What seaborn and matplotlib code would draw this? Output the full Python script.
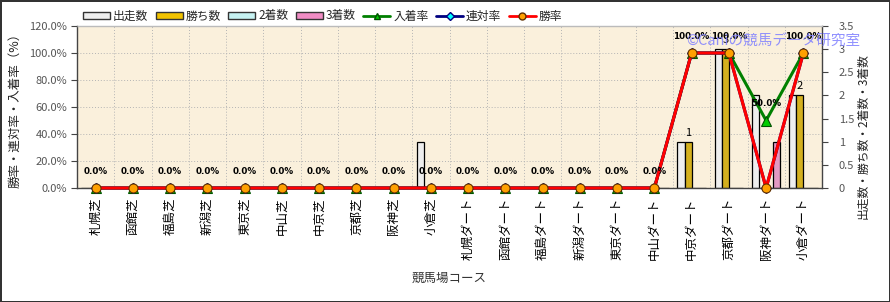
import numpy as np
import pandas as pd
import matplotlib
matplotlib.use('Agg')
import matplotlib.pyplot as plt
from matplotlib.patches import Patch
from matplotlib.lines import Line2D
from matplotlib.ticker import FixedLocator, FuncFormatter
import seaborn as sns

# ---------------- data ----------------
courses = ['札幌芝', '函館芝', '福島芝', '新潟芝', '東京芝', '中山芝', '中京芝', '京都芝', '阪神芝', '小倉芝',
           '札幌ダート', '函館ダート', '福島ダート', '新潟ダート', '東京ダート', '中山ダート',
           '中京ダート', '京都ダート', '阪神ダート', '小倉ダート']
starts = [0, 0, 0, 0, 0, 0, 0, 0, 0, 1, 0, 0, 0, 0, 0, 0, 1, 3, 2, 2]
wins = [0, 0, 0, 0, 0, 0, 0, 0, 0, 0, 0, 0, 0, 0, 0, 0, 1, 3, 0, 2]
seconds = [0, 0, 0, 0, 0, 0, 0, 0, 0, 0, 0, 0, 0, 0, 0, 0, 0, 0, 0, 0]
thirds = [0, 0, 0, 0, 0, 0, 0, 0, 0, 0, 0, 0, 0, 0, 0, 0, 0, 0, 1, 0]
place_rate = [0, 0, 0, 0, 0, 0, 0, 0, 0, 0, 0, 0, 0, 0, 0, 0, 100, 100, 50, 100]
rentai_rate = [0, 0, 0, 0, 0, 0, 0, 0, 0, 0, 0, 0, 0, 0, 0, 0, 100, 100, 0, 100]
win_rate = [0, 0, 0, 0, 0, 0, 0, 0, 0, 0, 0, 0, 0, 0, 0, 0, 100, 100, 0, 100]

bar_series = ['出走数', '勝ち数', '2着数', '3着数']
line_series = ['入着率', '連対率', '勝率']
pct_ticks = [0, 20, 40, 60, 80, 100, 120]
cnt_ticks = [0, 0.5, 1, 1.5, 2, 2.5, 3, 3.5]

bar_colors = {'出走数': '#EEEEEE', '勝ち数': '#F2C300', '2着数': '#C6F2F2', '3着数': '#F08CC4'}

df = pd.DataFrame({
    'コース': courses * 4,
    '数': starts + wins + seconds + thirds,
    '系列': np.repeat(bar_series, len(courses)),
})

# ---------------- style ----------------
sns.set_style('white')
plt.rcParams['font.family'] = ['Noto Sans CJK JP', 'DejaVu Sans']

fig = plt.figure(figsize=(8.9, 3.02), dpi=100, linewidth=2, edgecolor='#333333', facecolor='white')
axb = fig.add_axes([77 / 890, 1 - 188 / 302, 745 / 890, 162 / 302])
axb.set_facecolor('#FAF0DC')
axb.set_axisbelow(True)

sns.barplot(data=df, x='コース', y='数', hue='系列', order=courses, hue_order=bar_series,
            palette=bar_colors, width=0.76, edgecolor='black', linewidth=0.9,
            errorbar=None, legend=False, ax=axb)

axl = axb.twinx()

def rate_line(vals, color, marker, mfc, mec, ms):
    sns.pointplot(x=courses, y=vals, order=courses, color=color, marker=marker,
                  linestyle='-', errorbar=None, markersize=ms, markerfacecolor=mfc,
                  markeredgecolor=mec, markeredgewidth=0.8, linewidth=2.2,
                  clip_on=False, ax=axl)

rate_line(place_rate, '#008000', '^', '#00CC00', '#005000', 6.5)
rate_line(rentai_rate, '#000080', 'D', '#00FFFF', '#000080', 5)
rate_line(win_rate, '#FF0000', 'o', '#FFA000', '#603000', 6.5)

# data labels
for i, v in enumerate(place_rate):
    axl.annotate(f'{v:.1f}%', xy=(i, v), xytext=(0, 12), textcoords='offset points',
                 ha='center', va='center', fontsize=6.3, fontweight='bold',
                 family=['DejaVu Sans'], color='black')
win_bars = axb.containers[1]
axb.bar_label(win_bars, labels=[f'{b.get_height():.0f}' if b.get_height() > 0 else '' for b in win_bars],
              padding=3, fontsize=8, color='black')

# ---------------- axes ----------------
axb.set_xlim(-0.5, len(courses) - 0.5)
axb.set_ylim(0, 3.5)
axl.set_ylim(0, 120)
axl.set_xlim(-0.5, len(courses) - 0.5)

axl.yaxis.tick_left()
axl.yaxis.set_label_position('left')
axb.yaxis.tick_right()
axb.yaxis.set_label_position('right')

axl.set_yticks(pct_ticks)
axl.yaxis.set_major_formatter(FuncFormatter(lambda v, p: f'{v:.1f}%'))
axb.set_yticks(cnt_ticks)
axb.yaxis.set_major_formatter(FuncFormatter(lambda v, p: f'{v:g}'))

axl.tick_params(axis='y', direction='out', length=4, width=0.8, color='#444444',
                labelsize=8, labelcolor='#555555', pad=3)
axb.tick_params(axis='y', direction='out', length=4, width=0.8, color='#444444',
                labelsize=8, labelcolor='#555555', pad=8)
axb.tick_params(axis='x', length=0, pad=7, labelsize=9, labelrotation=90, labelcolor='black')

# grid aligned to percentage ticks and category boundaries
axb.yaxis.set_minor_locator(FixedLocator([t * 3.5 / 120 for t in pct_ticks[1:]]))
axb.xaxis.set_minor_locator(FixedLocator(np.arange(-0.5, len(courses), 1)))
axb.grid(False, which='major')
axb.grid(True, which='minor', color='#B4B4B4', linestyle=(0, (1, 2)), linewidth=0.7)
axb.tick_params(which='minor', length=0)

for s in axl.spines.values():
    s.set_visible(False)
for name, s in axb.spines.items():
    s.set_visible(True)
    s.set_linewidth(1.0)
    s.set_color('#bbbbbb' if name == 'top' else '#444444')

axb.set_xlabel('競馬場コース', fontsize=9, color='#333333')
axb.xaxis.set_label_coords(0.5, -0.515)
axl.set_xlabel('')
axl.set_ylabel('勝率・連対率・入着率（%）', fontsize=9, color='#222222')
axl.yaxis.set_label_coords(-0.075, 0.5)
axb.set_ylabel('出走数・勝ち数・2着数・3着数', fontsize=8.5, color='#222222')
axb.yaxis.set_label_coords(1.046, 0.32)

# legend
handles = [Patch(facecolor=bar_colors[s], edgecolor='#333333', linewidth=1) for s in bar_series]
handles += [
    Line2D([], [], color='#008000', lw=2, marker='^', markerfacecolor='#00CC00', markeredgecolor='#005000', markersize=5),
    Line2D([], [], color='#000080', lw=2, marker='D', markerfacecolor='#00FFFF', markeredgecolor='#000080', markersize=4),
    Line2D([], [], color='#FF0000', lw=2, marker='o', markerfacecolor='#FFA000', markeredgecolor='#603000', markersize=5),
]
fig.legend(handles, bar_series + line_series, loc='center left', bbox_to_anchor=(83 / 890, 1 - 16 / 302),
           ncol=7, frameon=False, fontsize=8.5, handlelength=2.3, handletextpad=0.25,
           columnspacing=0.62, borderpad=0, borderaxespad=0, handleheight=0.6)

# watermark
fig.text(686 / 890, 1 - 42 / 302, '©Caniの競馬データ研究室', fontsize=10.5, color='#7F7FFF',
         alpha=0.85, ha='left', va='center')

fig.savefig('out.png', dpi=100)
